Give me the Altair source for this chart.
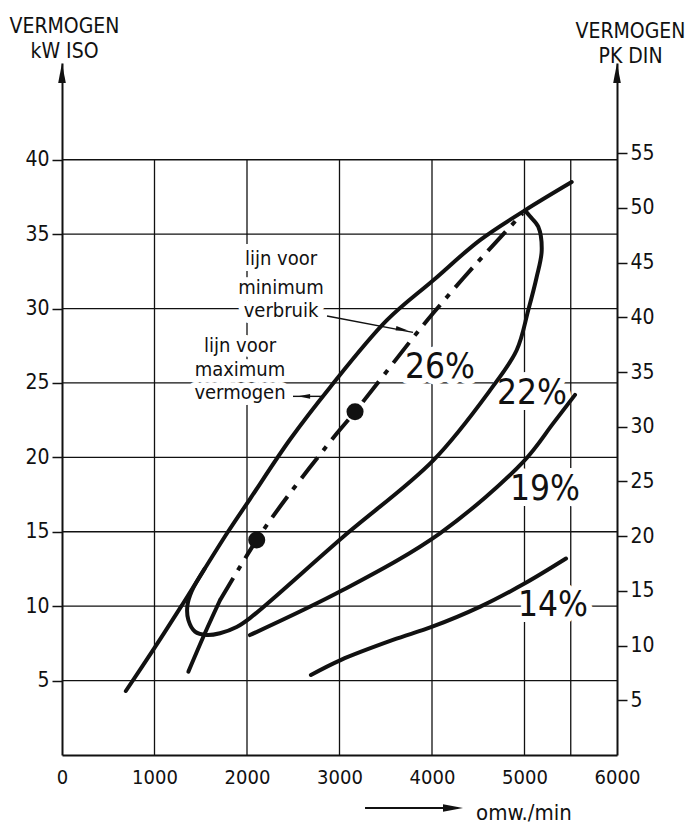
import altair as alt
import pandas as pd

# ---------------- data ----------------
rpm_ticks = [0, 1000, 2000, 3000, 4000, 5000, 6000]
kw_ticks = [5, 10, 15, 20, 25, 30, 35, 40]
pk_ticks = [5, 10, 15, 20, 25, 30, 35, 40, 45, 50, 55]
grid_rpm = [1000, 2000, 3000, 4000, 5000, 5500]
grid_kw = [5, 10, 15, 20, 25, 30, 35, 40]
KW_TOP = 46.5          # top of the left axis arrow
PK_PER_KW = 1.36

# line for maximum power
max_rpm = [690, 1000, 1290, 1784, 2032, 2465, 2897, 3510, 4014, 4519, 5005, 5510]
max_kw = [4.3, 7.2, 10.0, 14.9, 17.2, 21.2, 24.7, 29.2, 31.9, 34.6, 36.6, 38.5]

# line for minimum consumption (first 3 points solid, rest dash-dot)
min_rpm = [1366, 1546, 1708, 2105, 2430, 2970, 3168, 3816, 4014, 4447, 4980]
min_kw = [5.6, 8.2, 10.4, 14.45, 17.3, 21.6, 23.07, 28.2, 29.7, 32.8, 36.4]
min_solid_n = 3

# marked operating points
dot_rpm = [2105, 3168]
dot_kw = [14.45, 23.07]

# 26 % contour (loop)
loop_rpm = [1540, 1402, 1355, 1366, 1438, 1564, 1708, 1888, 2032, 3041, 4014,
            4627, 4915, 5041, 5131, 5186, 5149, 5059, 5005]
loop_kw = [12.5, 11.0, 10.0, 9.07, 8.29, 8.06, 8.18, 8.6, 9.2, 14.67, 19.8,
           24.5, 27.2, 29.9, 32.1, 33.9, 35.5, 36.2, 36.6]

# 22 % / 19 % curve
c22_rpm = [2032, 3041, 4086, 4986, 5312, 5546]
c22_kw = [8.06, 11.1, 14.9, 19.7, 22.3, 24.2]

# 14 % curve
c14_rpm = [2691, 3012, 3578, 4003, 4522, 4995, 5449]
c14_kw = [5.38, 6.38, 7.73, 8.62, 9.97, 11.5, 13.2]

# labels
pct_text = ["26%", "22%", "19%", "14%"]
pct_rpm = [4086, 5081, 5222, 5308]
pct_kw = [26.1, 24.3, 17.9, 10.1]

note_text = ["lijn voor", "minimum", "verbruik", "lijn voor", "maximum", "vermogen"]
note_rpm = [2368, 2368, 2368, 1924, 1924, 1924]
note_kw = [32.9, 31.0, 29.4, 27.1, 25.5, 23.9]

# leader lines (start, end) and arrow heads
lead_rpm = [2865, 2497]
lead_rpm2 = [3795, 2822]
lead_kw = [29.5, 24.1]
lead_kw2 = [28.4, 24.1]
head_rpm = [3676, 2616]
head_kw = [28.6, 24.1]
head_angle = [10.5, 180]

# x-axis caption
cap_text = "omw./min"
cap_rpm = 4476
cap_kw = -4.37
cap_arrow_rpm = [3276, 4281]
cap_arrow_kw = -3.56
cap_head_rpm = 4227

# ---------------- styling ----------------
INK = "#111111"
FONT = "DejaVu Sans Condensed, DejaVu Sans, sans-serif"
ARROW_R = "M1,0L-1,-0.38L-1,0.38Z"
ARROW_UP = "M0,-1L0.38,1L-0.38,1Z"

xscale = alt.Scale(domain=[0, 6000], nice=False, zero=False)
yscale = alt.Scale(domain=[0, KW_TOP], nice=False, zero=False)

xaxis = alt.Axis(values=rpm_ticks, format="d", title=None, grid=False, ticks=False,
                 domain=True, domainColor=INK, domainWidth=2, labelFont=FONT,
                 labelFontSize=20, labelColor=INK, labelPadding=12, labelFlush=False,
                 labelOverlap=False)
yaxis = alt.Axis(values=kw_ticks, format="d", title=["VERMOGEN", "kW ISO"], titleAngle=0,
                 titleAlign="center", titleBaseline="alphabetic", titleX=2, titleY=-31,
                 titleFont=FONT, titleFontSize=21, titleFontWeight="normal",
                 titleLineHeight=25, titleColor=INK, grid=False, ticks=True, tickSize=10,
                 tickWidth=1.5, tickColor=INK, domain=True, domainColor=INK, domainWidth=2,
                 labelFont=FONT, labelFontSize=21, labelPadding=3, labelColor=INK)


def X(f):
    return alt.X(f, type="quantitative", scale=xscale, axis=xaxis)


def Y(f):
    return alt.Y(f, type="quantitative", scale=yscale, axis=yaxis)


# ---------------- tables ----------------
vgrid = pd.DataFrame({"rpm": grid_rpm, "kw": 0, "kw2": 40})
hgrid = pd.DataFrame({"kw": grid_kw, "rpm": 0, "rpm2": 6000})
max_df = pd.DataFrame({"rpm": max_rpm, "kw": max_kw})
min_solid = pd.DataFrame({"rpm": min_rpm[:min_solid_n], "kw": min_kw[:min_solid_n]})
min_dash = pd.DataFrame({"rpm": min_rpm[min_solid_n - 1:], "kw": min_kw[min_solid_n - 1:]})
dot_df = pd.DataFrame({"rpm": dot_rpm, "kw": dot_kw})
loop_df = pd.DataFrame({"rpm": loop_rpm, "kw": loop_kw, "idx": range(len(loop_rpm))})
c22_df = pd.DataFrame({"rpm": c22_rpm, "kw": c22_kw})
c14_df = pd.DataFrame({"rpm": c14_rpm, "kw": c14_kw})
pct_df = pd.DataFrame({"t": pct_text, "rpm": pct_rpm, "kw": pct_kw})
note_df = pd.DataFrame({"t": note_text, "rpm": note_rpm, "kw": note_kw})
lead_df = pd.DataFrame({"rpm": lead_rpm, "rpm2": lead_rpm2, "kw": lead_kw, "kw2": lead_kw2})
head_df = pd.DataFrame({"rpm": head_rpm, "kw": head_kw, "ang": head_angle})
cap_df = pd.DataFrame({"t": [cap_text], "rpm": [cap_rpm], "kw": [cap_kw]})
cap_line = pd.DataFrame({"rpm": [cap_arrow_rpm[0]], "rpm2": [cap_arrow_rpm[1]],
                         "kw": [cap_arrow_kw]})
cap_head = pd.DataFrame({"rpm": [cap_head_rpm], "kw": [cap_arrow_kw]})
axis_tip = pd.DataFrame({"rpm": [0, 6000], "kw": [KW_TOP, KW_TOP]})
pk_df = pd.DataFrame({"pk": pk_ticks, "rpm": 6000})

# ---------------- layers ----------------
vlines = alt.Chart(vgrid).mark_rule(color=INK, strokeWidth=1.3).encode(
    x=X("rpm"), y=Y("kw"), y2=alt.Y2("kw2"))
hlines = alt.Chart(hgrid).mark_rule(color=INK, strokeWidth=1.3).encode(
    x=X("rpm"), x2=alt.X2("rpm2"), y=Y("kw"))

halo_pct = alt.Chart(pct_df).mark_text(font=FONT, fontSize=35, align="center",
                                       baseline="middle", fill="white", stroke="white",
                                       strokeWidth=12, strokeJoin="round").encode(
    x=X("rpm"), y=Y("kw"), text="t:N")
halo_note = alt.Chart(note_df).mark_text(font=FONT, fontSize=20, align="center",
                                         baseline="alphabetic", fill="white", stroke="white",
                                         strokeWidth=12, strokeJoin="round").encode(
    x=X("rpm"), y=Y("kw"), text="t:N")

curve_style = dict(color=INK, strokeWidth=4, strokeCap="round", interpolate="catmull-rom")
max_line = alt.Chart(max_df).mark_line(**curve_style).encode(x=X("rpm"), y=Y("kw"))
min_line_a = alt.Chart(min_solid).mark_line(**curve_style).encode(x=X("rpm"), y=Y("kw"))
min_line_b = alt.Chart(min_dash).mark_line(interpolate="catmull-rom", color=INK,
                                           strokeWidth=4,
                                           strokeDash=[26, 9, 5, 9]).encode(
    x=X("rpm"), y=Y("kw"))
loop_line = alt.Chart(loop_df).mark_line(**curve_style).encode(
    x=X("rpm"), y=Y("kw"), order=alt.Order("idx:Q"))
c22_line = alt.Chart(c22_df).mark_line(**curve_style).encode(x=X("rpm"), y=Y("kw"))
c14_line = alt.Chart(c14_df).mark_line(**curve_style).encode(x=X("rpm"), y=Y("kw"))
dots = alt.Chart(dot_df).mark_circle(color=INK, opacity=1, size=290).encode(
    x=X("rpm"), y=Y("kw"))

leaders = alt.Chart(lead_df).mark_rule(color=INK, strokeWidth=1.4).encode(
    x=X("rpm"), x2=alt.X2("rpm2"), y=Y("kw"), y2=alt.Y2("kw2"))
heads = alt.Chart(head_df).mark_point(shape=ARROW_R, filled=True, color=INK, opacity=1,
                                      size=150).encode(
    x=X("rpm"), y=Y("kw"), angle=alt.Angle("ang:Q", scale=None))

pct_txt = alt.Chart(pct_df).mark_text(font=FONT, fontSize=35, align="center",
                                      baseline="middle", color=INK).encode(
    x=X("rpm"), y=Y("kw"), text="t:N")
note_txt = alt.Chart(note_df).mark_text(font=FONT, fontSize=20, align="center",
                                        baseline="alphabetic", color=INK).encode(
    x=X("rpm"), y=Y("kw"), text="t:N")

cap_rule = alt.Chart(cap_line).mark_rule(color=INK, strokeWidth=2).encode(
    x=X("rpm"), x2=alt.X2("rpm2"), y=Y("kw"))
cap_arrow = alt.Chart(cap_head).mark_point(shape=ARROW_R, filled=True, color=INK, opacity=1,
                                           size=400).encode(x=X("rpm"), y=Y("kw"))
cap_txt = alt.Chart(cap_df).mark_text(font=FONT, fontSize=22, align="left",
                                      baseline="alphabetic", color=INK).encode(
    x=X("rpm"), y=Y("kw"), text="t:N")

tips = alt.Chart(axis_tip).mark_point(shape=ARROW_UP, filled=True, color=INK, opacity=1,
                                      size=400, yOffset=10).encode(x=X("rpm"), y=Y("kw"))

main = alt.layer(vlines, hlines, halo_pct, halo_note, max_line, min_line_a, min_line_b,
                 loop_line, c22_line, c14_line, dots, leaders, heads, pct_txt, note_txt,
                 cap_rule, cap_arrow, cap_txt, tips)

right = alt.Chart(pk_df).mark_point(opacity=0).encode(
    x=X("rpm"),
    y=alt.Y("pk", type="quantitative",
            scale=alt.Scale(domain=[0, KW_TOP * PK_PER_KW], nice=False, zero=False),
            axis=alt.Axis(orient="right", values=pk_ticks, format="d",
                          title=["VERMOGEN", "PK DIN"],
                          titleAngle=0, titleAlign="center", titleBaseline="alphabetic",
                          titleX=13, titleY=-26, titleFont=FONT, titleFontSize=21,
                          titleFontWeight="normal", titleLineHeight=25, titleColor=INK,
                          grid=False, ticks=True, tickSize=10, tickWidth=1.5, tickColor=INK,
                          domain=True, domainColor=INK, domainWidth=2,
                          labelFont=FONT, labelFontSize=21, labelPadding=3,
                          labelColor=INK)))

chart = alt.layer(main, right).resolve_scale(y="independent").properties(
    width=555, height=692,
    padding={"left": 62, "top": 63, "right": 68, "bottom": 69},
    autosize=alt.AutoSizeParams(type="none"),
    background="white",
).configure_view(stroke=None)

chart.save("out.html", embed_options={"renderer": "svg", "actions": False})
